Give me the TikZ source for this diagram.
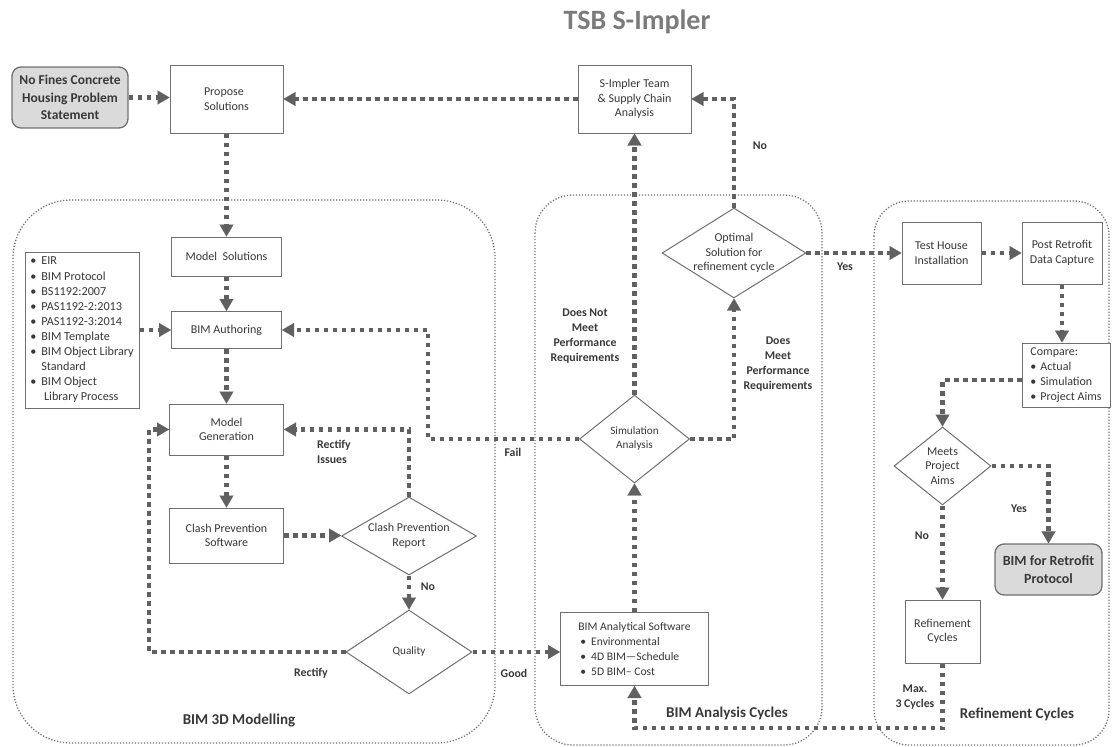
\documentclass[tikz,border=0pt]{standalone}
\usepackage{fontspec}
\setmainfont{Carlito}
\usetikzlibrary{shapes.geometric,arrows.meta,calc}
\definecolor{ln}{HTML}{606060}
\definecolor{bd}{HTML}{707070}
\definecolor{tx}{HTML}{383838}
\definecolor{gf}{HTML}{DADADA}
\definecolor{tt}{HTML}{7B7B7B}
\begin{document}
\begin{tikzpicture}[x=1pt,y=-1pt,
 box/.style={rectangle, draw=bd, line width=1pt, fill=white, text=tx, font=\fontsize{12}{14.5}\selectfont, align=center, inner sep=2pt},
 dia/.style={diamond, draw=bd, line width=1pt, fill=white, text=tx, font=\fontsize{12}{14.5}\selectfont, align=center, inner sep=0pt, aspect=1.6},
 keybox/.style={rectangle, rounded corners=9pt, draw=bd, line width=1.3pt, fill=gf, text=tx, font=\bfseries\fontsize{13.5}{17.5}\selectfont, align=center},
 flow/.style={draw=ln, line width=4.5pt, dash pattern=on 4.5pt off 4.5pt, -{Triangle[length=12pt,width=14pt,line width=0.1pt]}},
 grp/.style={draw=bd, line width=1.3pt, dash pattern=on 1.2pt off 1.8pt},
 lbl/.style={font=\bfseries\fontsize{11.8}{15}\selectfont, text=tx, align=center, inner sep=0pt},
 glbl/.style={font=\bfseries\fontsize{15}{18}\selectfont, text=tx, inner sep=0pt},
]
\useasboundingbox (0,0) rectangle (1112,747);

% group frames
\draw[grp, rounded corners=58pt] (13,200) rectangle (495,743);
\draw[grp, rounded corners=38pt] (535,195) rectangle (822,745);
\draw[grp, rounded corners=35pt] (874,201) rectangle (1109,745);

% title
\node[font=\bfseries\fontsize{28}{30}\selectfont, text=tt] (title) at (637,22) {TSB S-Impler};

% nodes
\node[keybox, minimum width=116pt, minimum height=61pt] (problem) at (70,97.5) {No Fines Concrete\\Housing Problem\\Statement};
\node[box, align=left, minimum width=113pt, minimum height=68pt] (propose) at (226.5,99) {Propose\\Solutions};
\node[box, minimum width=113pt, minimum height=68pt] (simpler) at (634.5,99) {S-Impler Team\\\& Supply Chain\\Analysis};

\node[box, minimum width=110pt, minimum height=39pt] (modelsol) at (226.5,256.5) {Model~ Solutions};
\node[box, minimum width=110pt, minimum height=37pt] (bimauth) at (226.5,330) {BIM Authoring};
\node[box, align=left, font=\fontsize{12.2}{15.1}\selectfont, inner xsep=3pt, minimum width=114pt, minimum height=156pt] (list) at (82,330)
 {\textbullet\hspace{5pt}EIR\\
  \textbullet\hspace{5pt}BIM Protocol\\
  \textbullet\hspace{5pt}BS1192:2007\\
  \textbullet\hspace{5pt}PAS1192-2:2013\\
  \textbullet\hspace{5pt}PAS1192-3:2014\\
  \textbullet\hspace{5pt}BIM Template\\
  \textbullet\hspace{5pt}BIM Object Library\\
  \hphantom{\textbullet\hspace{5pt}}Standard\\
  \textbullet\hspace{5pt}BIM Object\\
  \hphantom{\textbullet\hspace{5pt}} Library Process};
\node[box, minimum width=114pt, minimum height=51pt] (modelgen) at (226.5,429.5) {Model\\Generation};
\node[box, minimum width=114pt, minimum height=55pt] (clashsw) at (226.5,535.5) {Clash Prevention\\Software};
\node[dia, aspect=1.7, minimum width=135pt, minimum height=78pt] (clashrep) at (409,536) {Clash Prevention\\Report};
\node[dia, font=\fontsize{11.2}{14}\selectfont, minimum width=126pt, minimum height=84pt] (quality) at (409,652) {Quality};

\node[dia, font=\fontsize{11.2}{14}\selectfont, aspect=1.25, minimum width=110pt, minimum height=88pt] (sim) at (634.5,439) {Simulation\\Analysis};
\node[dia, minimum width=143pt, minimum height=90pt] (opt) at (734,253) {Optimal\\Solution for\\refinement cycle};
\node[box, align=left, font=\fontsize{11.6}{14.7}\selectfont, minimum width=148pt, minimum height=73pt] (bas) at (634.5,649)
 {BIM Analytical Software\\
  \hspace{2pt}\textbullet\hspace{5pt}Environmental\\
  \hspace{2pt}\textbullet\hspace{5pt}4D BIM—Schedule\\
  \hspace{2pt}\textbullet\hspace{5pt}5D BIM– Cost};

\node[box, minimum width=79pt, minimum height=62pt] (testh) at (941.5,253) {Test House\\Installation};
\node[box, minimum width=80pt, minimum height=62pt] (postr) at (1062,253) {Post Retrofit\\Data Capture};
\node[box, align=left, font=\fontsize{12}{15}\selectfont, inner xsep=1.5pt, minimum width=88pt, minimum height=64pt] (compare) at (1066,375)
 {Compare:\\
  \textbullet\hspace{4pt}Actual\\
  \textbullet\hspace{4pt}Simulation\\
  \textbullet\hspace{4pt}Project Aims};
\node[dia, aspect=1.25, minimum width=97pt, minimum height=78pt] (meets) at (942.5,466) {Meets\\Project\\Aims};
\node[keybox, font=\bfseries\fontsize{14}{18}\selectfont, minimum width=107pt, minimum height=51pt] (retrofit) at (1048.5,569.5) {BIM for Retrofit\\Protocol};
\node[box, minimum width=75pt, minimum height=63pt] (refc) at (942.5,631.5) {Refinement\\Cycles};

% helper coordinates
\coordinate (qturn) at (149,429.5);
\coordinate (failturn) at (428,330);
\coordinate (botturn) at (634.5,728);

% connectors
\draw[flow] (problem.east) -- (problem.east -| propose.west);
\draw[flow] (simpler.west) -- (propose.east);
\draw[flow] (propose.south) -- (modelsol.north);
\draw[flow] (modelsol.south) -- (bimauth.north);
\draw[flow] (list.east) -- (bimauth.west);
\draw[flow] (bimauth.south) -- (modelgen.north);
\draw[flow] (modelgen.south) -- (clashsw.north);
\draw[flow] (clashsw.east) -- (clashsw.east -| clashrep.west);
\draw[flow] (clashrep.north) |- (modelgen.east);
\draw[flow] (clashrep.south) -- (quality.north);
\draw[flow] (quality.west) -| (qturn) -- (modelgen.west);
\draw[flow] (quality.east) -- (quality.east -| bas.west);
\draw[flow] (bas.north) -- (sim.south);
\draw[flow] (sim.west) -| (failturn) -- (bimauth.east);
\draw[flow] (sim.north) -- (simpler.south);
\draw[flow] (sim.east) -| (opt.south);
\draw[flow] (opt.north) |- (simpler.east);
\draw[flow] (opt.east) -- (opt.east -| testh.west);
\draw[flow] (testh.east) -- (postr.west);
\draw[flow] (postr.south) -- (postr.south |- compare.north);
\draw[flow] ([yshift=-5pt]compare.west) -| (meets.north);
\draw[flow] (meets.east) -| (retrofit.north);
\draw[flow] (meets.south) -- (refc.north);
\draw[flow] (refc.south) |- (botturn) -- (bas.south);

% labels
\node[lbl] (lno1) at (760,146) {No};
\node[lbl] (lyes1) at (845,267) {Yes};
\node[lbl] (ldnm) at (585,336) {Does Not\\Meet\\Performance\\Requirements};
\node[lbl] (ldm) at (778,364) {Does\\Meet\\Performance\\Requirements};
\node[lbl] (lfail) at (513,452) {Fail};
\node[lbl, align=left, anchor=west] (lrect) at (317,452) {Rectify\\Issues};
\node[lbl] (lno2) at (428,587) {No};
\node[lbl] (lrect2) at (311,673) {Rectify};
\node[lbl] (lgood) at (514,673) {Good};
\node[lbl] (lyes2) at (1019,509) {Yes};
\node[lbl] (lno3) at (922,536) {No};
\node[lbl] (lmax) at (915,697) {Max.\\3 Cycles};
\node[glbl] (g1) at (239,721) {BIM 3D Modelling};
\node[glbl] (g2) at (727,713) {BIM Analysis Cycles};
\node[glbl] (g3) at (1017,714) {Refinement Cycles};
\end{tikzpicture}
\end{document}
